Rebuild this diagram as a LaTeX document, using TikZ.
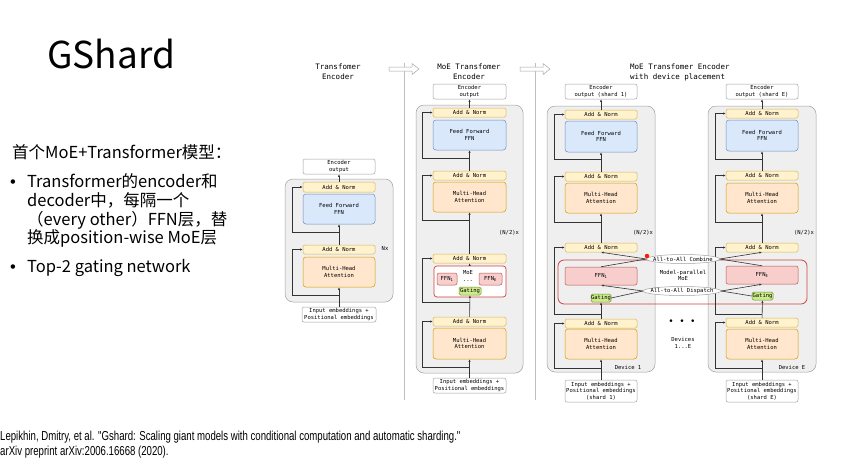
\documentclass[tikz,border=0pt]{standalone}
\usepackage{fontspec}
\setmainfont{Liberation Sans}
\newfontfamily\cjkf{Noto Sans CJK SC}
\newfontfamily\monof{DejaVu Sans Mono}
\newfontfamily\citef[FakeStretch=0.74]{Liberation Sans}
\usetikzlibrary{shapes.geometric,arrows.meta}
\definecolor{anfill}{HTML}{FFF2CC}\definecolor{anline}{HTML}{D6B656}
\definecolor{fffill}{HTML}{DAE8FC}\definecolor{ffline}{HTML}{6C8EBF}
\definecolor{mhfill}{HTML}{FFE6CC}\definecolor{mhline}{HTML}{D79B00}
\definecolor{pkfill}{HTML}{F8CECC}\definecolor{pkline}{HTML}{B85450}
\definecolor{gtfill}{HTML}{CDEB8B}\definecolor{gtline}{HTML}{6D8E2E}
\definecolor{gyfill}{HTML}{EFEFEF}\definecolor{gyline}{HTML}{A0A0A0}
\definecolor{redb}{HTML}{D04040}
\definecolor{lnc}{HTML}{333333}
\newcommand\mkbox[7]{%
 \pgfmathsetmacro\mkbw{#5-#3}\pgfmathsetmacro\mkbh{#6-#4}%
 \pgfmathsetmacro\mkbx{(#3+#5)/2}\pgfmathsetmacro\mkby{(#4+#6)/2}%
 \node[#2, minimum width=\mkbw pt, minimum height=\mkbh pt] (#1) at (\mkbx,\mkby) {#7};}
\tikzset{
 base/.style={inner sep=0pt, align=center, line width=0.5pt, rounded corners=1.5pt, font=\monof\fontsize{5.5}{6.5}\selectfont},
 an/.style={base, draw=anline, fill=anfill},
 ffn/.style={base, draw=ffline, fill=fffill, rounded corners=3pt},
 mha/.style={base, draw=mhline, fill=mhfill, rounded corners=3pt},
 pk/.style={base, draw=pkline, fill=pkfill, rounded corners=2pt},
 gt/.style={base, draw=gtline, fill=gtfill},
 outb/.style={base, draw=gyline, fill=white, rounded corners=2pt},
 gray/.style={base, draw=gyline, fill=gyfill, rounded corners=8pt},
 moeb/.style={base, draw=redb, fill=white, rounded corners=3pt, line width=0.7pt},
 lbl/.style={inner sep=0pt, align=center, font=\monof\fontsize{5.5}{6.5}\selectfont},
 ttl/.style={inner sep=0pt, align=center, font=\monof\fontsize{7.5}{10}\selectfont},
 ell/.style={ellipse, draw=gyline, fill=white, inner xsep=-4pt, inner ysep=-1pt, minimum height=9pt, line width=0.5pt, font=\monof\fontsize{5.5}{6.5}\selectfont},
 ln/.style={draw=lnc, line width=0.6pt},
 arr/.style={ln, -{Latex[length=2.6pt,width=2.2pt]}},
 body/.style={anchor=base west, inner sep=0pt, font=\cjkf\fontsize{16.5}{19}\selectfont},
 bul/.style={anchor=base west, inner sep=0pt, font=\fontsize{16.5}{19}\selectfont},
}
\begin{document}
\begin{tikzpicture}[x=1pt,y=-1pt]
\useasboundingbox[fill=white] (0,0) rectangle (845,467);

% ---- left text ----
\node[anchor=base west, inner sep=0pt, font=\cjkf\fontsize{37}{40}\selectfont] (title) at (47,68) {GShard};
\node[body] (l1) at (12,158) {首个MoE+Transformer模型：};
\node[bul] (bu1) at (10,187) {•};
\node[body] (l2) at (27,187) {Transformer的encoder和};
\node[body] (l3) at (27,206) {decoder中，每隔一个};
\node[body] (l4) at (27,225) {（every other）FFN层，替};
\node[body] (l5) at (27,243) {换成position-wise MoE层};
\node[bul] (bu2) at (10,272) {•};
\node[body] (l6) at (27,272) {Top-2 gating network};
\node[anchor=base west, inner sep=0pt, font=\citef\fontsize{13}{15}\selectfont] (c1) at (0,440) {Lepikhin, Dmitry, et al. "Gshard: Scaling giant models with conditional computation and automatic sharding."};
\node[anchor=base west, inner sep=0pt, font=\citef\fontsize{13}{15}\selectfont] (c2) at (0,455) {arXiv preprint arXiv:2006.16668 (2020).};

% ---- separators ----
\draw[draw=gray!50, line width=0.6pt] (404,63) -- (404,400);
\draw[draw=gray!50, line width=0.6pt] (535,63) -- (535,400);
\draw[draw=gray!70, fill=white, line width=0.5pt] (389,67) -- (412,67) -- (412,63.5) -- (419,69) -- (412,74.5) -- (412,71) -- (389,71) -- cycle;
\draw[draw=gray!70, fill=white, line width=0.5pt] (520,67) -- (543,67) -- (543,63.5) -- (550,69) -- (543,74.5) -- (543,71) -- (520,71) -- cycle;

% ---- titles ----
\node[ttl] (t1) at (338,72) {Transfomer\\Encoder};
\node[ttl] (t2) at (469,72) {MoE Transfomer\\Encoder};
\node[ttl, anchor=west, align=left] (t3) at (630,72) {MoE Transfomer Encoder\\with device placement};

% ---- column 1 ----
\mkbox{g1}{gray}{285}{179}{393}{302}{}
\mkbox{o1}{outb}{303}{159}{375}{174}{Encoder\\output}
\mkbox{a11}{an}{303}{182}{375}{192}{Add \& Norm}
\mkbox{f1}{ffn}{303}{194}{375}{224}{Feed Forward\\FFN}
\mkbox{a12}{an}{303}{245}{375}{254}{Add \& Norm}
\mkbox{m1}{mha}{303}{257}{375}{287}{Multi-Head\\Attention}
\mkbox{i1}{outb}{302}{307}{376}{322}{Input embeddings +\\Positional embeddings}
\node[lbl] (nx1) at (385,248) {Nx};
\draw[arr] (i1) -- (m1);
\draw[arr] (a12) -- (f1);
\draw[arr] (a11) -- (o1);
\coordinate (r1a) at (339,295);
\coordinate (r1b) at (339,232);
\draw[arr] (r1a) -- ++(-47,0) |- (a12.west);
\draw[arr] (r1b) -- ++(-47,0) |- (a11.west);

% ---- column 2 ----
\mkbox{g2}{gray}{416}{105}{523}{373}{}
\mkbox{o2}{outb}{433}{84}{506}{99}{Encoder\\output}
\mkbox{a21}{an}{433}{108}{506}{117}{Add \& Norm}
\mkbox{f2}{ffn}{433}{120}{506}{150}{Feed Forward\\FFN}
\mkbox{a22}{an}{433}{171}{506}{180}{Add \& Norm}
\mkbox{m2}{mha}{433}{182}{506}{212}{Multi-Head\\Attention}
\mkbox{a23}{an}{433}{254}{506}{263}{Add \& Norm}
\mkbox{moe2}{moeb}{434}{266}{506}{297}{}
\mkbox{fa2}{pk}{437}{273}{457}{285}{FFN\textsubscript{1}}
\mkbox{fe2}{pk}{479}{273}{502}{285}{FFN\textsubscript{E}}
\node[lbl] (moel) at (468,273) {MoE};
\node[lbl] (dots2) at (468,281) {...};
\mkbox{gt2}{gt}{459}{287}{481}{295}{Gating}
\mkbox{a24}{an}{433}{317}{506}{326}{Add \& Norm}
\mkbox{m22}{mha}{433}{328}{506}{359}{Multi-Head\\Attention}
\mkbox{i2}{outb}{433}{378}{506}{393}{Input embeddings +\\Positional embeddings}
\node[lbl] (nx2) at (509,233) {(N/2)x};
\draw[arr] (i2) -- (m22);
\draw[arr] (a24) -- (gt2);
\draw[arr] (moe2) -- (a23);
\draw[arr] (a23) -- (m2);
\draw[arr] (a22) -- (f2);
\draw[arr] (a21) -- (o2);
\coordinate (r2a) at (469.5,158);
\coordinate (r2b) at (469.5,220);
\coordinate (r2c) at (469.5,302);
\coordinate (r2d) at (469.5,367);
\draw[arr] (r2a) -- ++(-47.5,0) |- (a21.west);
\draw[arr] (r2b) -- ++(-47.5,0) |- (a22.west);
\draw[arr] (r2c) -- ++(-47.5,0) |- (a23.west);
\draw[arr] (r2d) -- ++(-47.5,0) |- (a24.west);

% ---- column 3 (device 1) ----
\mkbox{g3}{gray}{547}{106}{655}{372}{}
\mkbox{g4}{gray}{708}{106}{816}{372}{}
\draw[draw=redb, line width=0.8pt, rounded corners=6pt] (558,260) rectangle (807,304);
\mkbox{o3}{outb}{565}{84}{637}{99}{Encoder\\output (shard 1)}
\mkbox{a31}{an}{565}{110}{637}{119}{Add \& Norm}
\mkbox{f3}{ffn}{565}{121}{637}{152}{Feed Forward\\FFN}
\mkbox{a32}{an}{565}{172}{637}{181}{Add \& Norm}
\mkbox{m3}{mha}{565}{183}{637}{213}{Multi-Head\\Attention}
\mkbox{a33}{an}{565}{243}{637}{252}{Add \& Norm}
\mkbox{p3}{pk}{565}{267}{637}{285}{FFN\textsubscript{1}}
\mkbox{gt3}{gt}{591}{294}{611}{302}{Gating}
\mkbox{a34}{an}{565}{319}{637}{328}{Add \& Norm}
\mkbox{m32}{mha}{565}{329}{637}{359}{Multi-Head\\Attention}
\mkbox{i3}{outb}{565}{380}{637}{402}{Input embeddings +\\Positional embeddings\\(shard 1)}
\node[lbl] (nx3) at (643,233) {(N/2)x};
\node[lbl] (dev1) at (628,367) {Device 1};
\draw[arr] (i3) -- (m32);
\draw[arr] (a34) -- (gt3);
\draw[arr] (a33) -- (m3);
\draw[arr] (a32) -- (f3);
\draw[arr] (a31) -- (o3);
\coordinate (r3a) at (601,159);
\coordinate (r3b) at (601,222);
\coordinate (r3c) at (601,314);
\coordinate (r3d) at (601,368);
\draw[arr] (r3a) -- ++(-47,0) |- (a31.west);
\draw[arr] (r3b) -- ++(-47,0) |- (a32.west);
\draw[arr] (r3c) -- ++(-47,0) |- (a33.west);
\draw[arr] (r3d) -- ++(-47,0) |- (a34.west);

% ---- column 4 (device E) ----
\mkbox{o4}{outb}{726}{84}{798}{99}{Encoder\\output (shard E)}
\mkbox{a41}{an}{726}{109}{798}{118}{Add \& Norm}
\mkbox{f4}{ffn}{726}{120}{798}{151}{Feed Forward\\FFN}
\mkbox{a42}{an}{726}{171}{798}{180}{Add \& Norm}
\mkbox{m4}{mha}{726}{183}{798}{213}{Multi-Head\\Attention}
\mkbox{a43}{an}{726}{243}{798}{252}{Add \& Norm}
\mkbox{p4}{pk}{726}{266}{798}{284}{FFN\textsubscript{E}}
\mkbox{gt4}{gt}{752}{292}{773}{300}{Gating}
\mkbox{a44}{an}{726}{318}{798}{327}{Add \& Norm}
\mkbox{m42}{mha}{726}{329}{798}{359}{Multi-Head\\Attention}
\mkbox{i4}{outb}{726}{380}{798}{402}{Input embeddings +\\Positional embeddings\\(shard E)}
\node[lbl] (nx4) at (804,233) {(N/2)x};
\node[lbl] (devE) at (792,367) {Device E};
\draw[arr] (i4) -- (m42);
\draw[arr] (a44) -- (gt4);
\draw[arr] (a43) -- (m4);
\draw[arr] (a42) -- (f4);
\draw[arr] (a41) -- (o4);
\coordinate (r4a) at (762,159);
\coordinate (r4b) at (762,222);
\coordinate (r4c) at (762,314);
\coordinate (r4d) at (762,368);
\draw[arr] (r4a) -- ++(-47,0) |- (a41.west);
\draw[arr] (r4b) -- ++(-47,0) |- (a42.west);
\draw[arr] (r4c) -- ++(-47,0) |- (a43.west);
\draw[arr] (r4d) -- ++(-47,0) |- (a44.west);

% ---- model-parallel MoE ----
\node[ell] (comb) at (683,259) {All-to-All Combine};
\node[ell] (disp) at (682,291) {All-to-All Dispatch};
\node[lbl] (mp) at (683,275.5) {Model-parallel\\MoE};
\draw[ln] (p3.north) -- (comb.west);
\draw[arr] (comb.west) -- (a33.south);
\draw[ln] (p4.north) -- (comb.east);
\draw[arr] (comb.east) -- (a43.south);
\draw[ln] (gt3.east) -- (disp.west);
\draw[arr] (disp.west) -- (p3.south);
\draw[ln] (gt4.west) -- (disp.east);
\draw[arr] (disp.east) -- (p4.south);
\fill[red!80!orange] (647,256) circle (2.2);
\node[inner sep=0pt, font=\monof\fontsize{9}{10}\selectfont] (ddd) at (682,322) {• • •};
\node[lbl] (devs) at (683,343) {Devices\\1...E};
\end{tikzpicture}
\end{document}
